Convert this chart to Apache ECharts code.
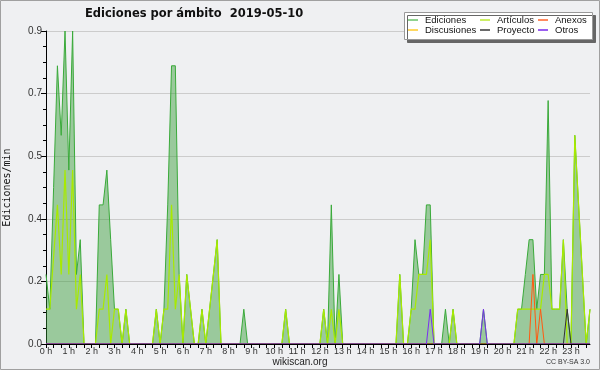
<!DOCTYPE html>
<html>
<head>
<meta charset="utf-8">
<script src="https://cdn.jsdelivr.net/npm/echarts@6/dist/echarts.min.js"></script>
<style>html,body{margin:0;padding:0;background:#eff0f2;}#c{width:600px;height:370px;}</style>
</head>
<body>
<div id="c"></div>
<script>
// ---- data (10-minute steps, edits per minute) ----
const hourLabels = ['0 h','1 h','2 h','3 h','4 h','5 h','6 h','7 h','8 h','9 h','10 h','11 h',
  '12 h','13 h','14 h','15 h','16 h','17 h','18 h','19 h','20 h','21 h','22 h','23 h'];
const yTickLabels = ['0.0','0.2','0.4','0.5','0.7','0.9'];
const seriesNames = ['Ediciones','Artículos','Anexos','Discusiones','Proyecto','Otros'];

const ediciones = [
  .2,.1,.45,.8,.6,.9,   .5,.9,.2,.3,0,0,     0,0,.4,.4,.5,.3,    .1,.1,0,.1,0,0,
  0,0,0,0,0,.1,         0,.1,.4,.8,.8,.2,    0,.2,.1,0,0,.1,     0,.1,.2,.3,0,0,
  0,0,0,0,.1,0,         0,0,0,0,0,0,         0,0,0,.1,0,0,       0,0,0,0,0,0,
  0,.1,0,.4,0,.2,       0,0,0,0,0,0,         0,0,0,0,0,0,        0,0,0,.2,0,0,
  .1,.3,.2,.2,.4,.4,    0,0,0,.1,0,.1,       0,0,0,0,0,0,        0,.1,0,0,0,0,
  0,0,0,0,.1,.1,        .2,.3,.3,.1,.2,.2,   .7,.1,.1,.1,.3,.1,  0,.6,.4,.2,0,.1
];
const articulos = [
  .1,.1,.25,.4,.2,.5,   .2,.5,.1,.2,0,0,     0,0,.1,.1,.2,0,     .1,.1,0,.1,0,0,
  0,0,0,0,0,.1,         0,.1,.1,.4,.1,.2,    0,.2,.1,0,0,.1,     0,.1,.2,.3,0,0,
  0,0,0,0,0,0,          0,0,0,0,0,0,         0,0,0,.1,0,0,       0,0,0,0,0,0,
  0,.1,0,.1,0,.1,       0,0,0,0,0,0,         0,0,0,0,0,0,        0,0,0,.2,0,0,
  .1,.1,.2,.2,.2,.3,    0,0,0,0,0,.1,        0,0,0,0,0,0,        0,0,0,0,0,0,
  0,0,0,0,.1,.1,        .1,.1,.1,.1,.1,.2,   .2,.1,.1,.1,.3,0,   0,.6,.4,.2,0,.1
];
const anexos = [
  0,0,0,0,0,0, 0,0,0,0,0,0, 0,0,0,0,0,0, 0,0,0,0,0,0,
  0,0,0,0,0,0, 0,0,0,0,0,0, 0,0,0,0,0,0, 0,0,0,0,0,0,
  0,0,0,0,0,0, 0,0,0,0,0,0, 0,0,0,0,0,0, 0,0,0,0,0,0,
  0,0,0,0,0,0, 0,0,0,0,0,0, 0,0,0,0,0,0, 0,0,0,0,0,0,
  0,0,0,0,0,0, 0,0,0,0,0,0, 0,0,0,0,0,0, 0,0,0,0,0,0,
  0,0,0,0,0,0, 0,0,.2,0,.1,0, 0,0,0,0,0,0, 0,0,0,0,0,0
];
const discusiones = [
  0,0,0,0,0,0, 0,0,0,0,0,0, 0,0,0,0,0,0, 0,0,0,0,0,0,
  0,0,0,0,0,0, 0,0,0,0,0,0, 0,0,0,0,0,0, 0,0,0,0,0,0,
  0,0,0,0,0,0, 0,0,0,0,0,0, 0,0,0,0,0,0, 0,0,0,0,0,0,
  0,0,0,0,0,0, 0,0,0,0,0,0, 0,0,0,0,0,0, 0,0,0,0,0,0,
  0,0,0,0,0,0, 0,0,0,0,0,0, 0,0,0,0,0,0, 0,0,0,0,0,0,
  0,0,0,0,0,0, 0,0,0,0,0,0, 0,0,0,0,0,0, 0,0,0,0,0,0
];
const proyecto = [
  0,0,0,0,0,0, 0,0,0,0,0,0, 0,0,0,0,0,0, 0,0,0,0,0,0,
  0,0,0,0,0,0, 0,0,0,0,0,0, 0,0,0,0,0,0, 0,0,0,0,0,0,
  0,0,0,0,0,0, 0,0,0,0,0,0, 0,0,0,0,0,0, 0,0,0,0,0,0,
  0,0,0,0,0,0, 0,0,0,0,0,0, 0,0,0,0,0,0, 0,0,0,0,0,0,
  0,0,0,0,0,0, 0,0,0,0,0,0, 0,0,0,0,0,0, 0,0,0,0,0,0,
  0,0,0,0,0,0, 0,0,0,0,0,0, 0,0,0,0,0,.1, 0,0,0,0,0,0
];
const otros = [
  0,0,0,0,0,0, 0,0,0,0,0,0, 0,0,0,0,0,0, 0,0,0,0,0,0,
  0,0,0,0,0,0, 0,0,0,0,0,0, 0,0,0,0,0,0, 0,0,0,0,0,0,
  0,0,0,0,0,0, 0,0,0,0,0,0, 0,0,0,0,0,0, 0,0,0,0,0,0,
  0,0,0,0,0,0, 0,0,0,0,0,0, 0,0,0,0,0,0, 0,0,0,0,0,0,
  0,0,0,0,0,.1, 0,0,0,0,0,0, 0,0,0,0,0,0, 0,.1,0,0,0,0,
  0,0,0,0,0,0, 0,0,0,0,0,0, 0,0,0,0,0,0, 0,0,0,0,0,0
];

// category labels: one per 10-minute step
const times = [];
for (let h = 0; h < 24; h++) for (let m = 0; m < 60; m += 10)
  times.push(String(h).padStart(2,'0') + ':' + String(m).padStart(2,'0'));

const lineColors = {Ediciones:'#3aaa3a', 'Artículos':'#a8ea00', Anexos:'#ff5a10',
  Discusiones:'#ffcc00', Proyecto:'#333333', Otros:'#7a2ff0'};
const legendColors = {Ediciones:'#8fd28f', 'Artículos':'#cdef66', Anexos:'#ff8a60',
  Discusiones:'#ffd860', Proyecto:'#6a6a6a', Otros:'#9a5ef0'};
const seriesData = {Ediciones:ediciones, 'Artículos':articulos, Anexos:anexos,
  Discusiones:discusiones, Proyecto:proyecto, Otros:otros};

const chart = echarts.init(document.getElementById('c'), null, {renderer:'canvas'});

function mkLegend(names, left) {
  return {
    orient:'vertical', left:left, top:15, padding:0, itemGap:0,
    icon:'rect', itemWidth:10, itemHeight:2, selectedMode:false, z:10,
    textStyle:{fontFamily:'Liberation Sans', fontSize:9.5, color:'#111', lineHeight:10, padding:[0,0,0,2]},
    data: names.map(n => ({name:n, itemStyle:{color:legendColors[n]}}))
  };
}

const drawOrder = ['Ediciones','Discusiones','Artículos','Anexos','Proyecto','Otros'];

const option = {
  backgroundColor:'#eff0f2',
  animation:false,
  title:{text:'Ediciones por ámbito  2019-05-10', left:85, top:8, padding:0,
    textStyle:{fontFamily:'DejaVu Sans', fontWeight:'bold', fontSize:11.5, color:'#111'}},
  legend:[mkLegend(['Ediciones','Discusiones'],408), mkLegend(['Artículos','Proyecto'],480), mkLegend(['Anexos','Otros'],538)],
  grid:{left:46, right:10, top:31, bottom:26, outerBoundsMode:'none', containLabel:false},
  xAxis:{
    type:'category', data:times, boundaryGap:false, z:5,
    axisLine:{lineStyle:{color:'#000', width:1}},
    axisTick:{interval:1, length:4, lineStyle:{color:'#000'}},
    axisLabel:{interval:5, margin:3, fontFamily:'Liberation Sans', fontSize:9, color:'#333',
      formatter:(v, i) => hourLabels[Math.floor(i/6)]},
    splitLine:{show:false}
  },
  yAxis:{
    type:'value', min:0, max:0.9, interval:0.18,
    name:'Ediciones/min', nameLocation:'middle', nameGap:34, nameRotate:90,
    nameTextStyle:{fontFamily:'DejaVu Sans Mono', fontSize:10, color:'#111'},
    axisLine:{show:true, lineStyle:{color:'#000'}},
    axisTick:{show:true, length:5, lineStyle:{color:'#000'}},
    minorTick:{show:true, splitNumber:4, length:3, lineStyle:{color:'#000'}},
    splitLine:{lineStyle:{color:'#cccccc', width:1}},
    axisLabel:{margin:4, fontFamily:'Liberation Sans', fontSize:10, color:'#333',
      formatter:(v, i) => yTickLabels[i]}
  },
  series: drawOrder.map(n => {
    const s = {name:n, type:'line', data:seriesData[n], symbol:'none', silent:true,
      itemStyle:{color:legendColors[n]},
      lineStyle:{color:lineColors[n], width:n === 'Artículos' ? 1.2 : 1}};
    if (n === 'Ediciones') s.areaStyle = {color:'rgba(51,153,51,0.45)', opacity:1};
    return s;
  }),
  graphic:[
    {type:'rect', z:0, silent:true, shape:{x:0.5, y:0.5, width:599, height:369},
      style:{fill:'none', stroke:'#a0a0a0', lineWidth:1}},
    {type:'rect', z:8, silent:true, shape:{x:404.5, y:12.5, width:188, height:27},
      style:{fill:'#ffffff', stroke:'#999999', lineWidth:1, shadowColor:'#666666', shadowOffsetX:3, shadowOffsetY:3, shadowBlur:0}},
    {type:'text', z:8, silent:true, x:300, y:362,
      style:{text:'wikiscan.org', fontFamily:'Liberation Sans', fontSize:10, fill:'#222', textAlign:'center', textVerticalAlign:'middle'}},
    {type:'text', z:8, silent:true, x:590, y:362,
      style:{text:'CC BY-SA 3.0', fontFamily:'Liberation Sans', fontSize:7, fill:'#333', textAlign:'right', textVerticalAlign:'middle'}}
  ]
};
chart.setOption(option);
</script>
</body>
</html>
